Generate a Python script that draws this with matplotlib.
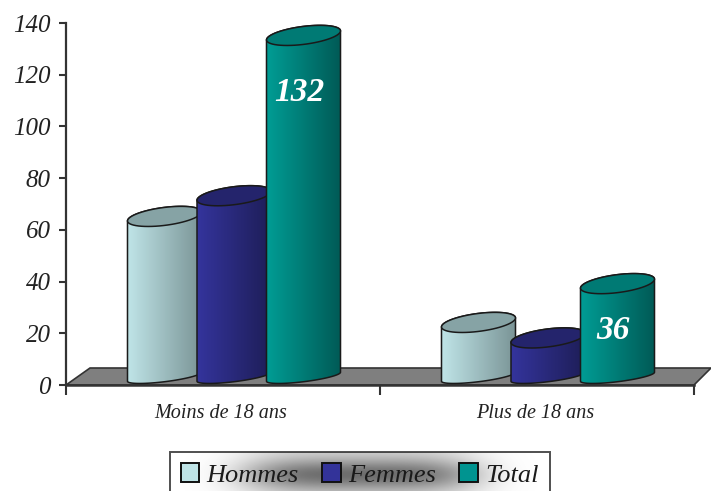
import numpy as np
import matplotlib
matplotlib.use("Agg")
import matplotlib.pyplot as plt
from matplotlib.patches import Polygon, Patch
from matplotlib.colors import LinearSegmentedColormap

categories = ["Moins de 18 ans", "Plus de 18 ans"]
series_names = ["Hommes", "Femmes", "Total"]
hommes = [62, 21]
femmes = [70, 15]
total = [132, 36]
series_values = [hommes, femmes, total]
shown_labels = {(2, 0): ("132", 113), (2, 1): ("36", 21)}
y_ticks = [0, 20, 40, 60, 80, 100, 120, 140]
grad_colors = [("#BFE4E7", "#7A9496", "#86A3A5"),
               ("#34349C", "#1E1E58", "#24246C"),
               ("#009C94", "#005A56", "#007A74")]

W, H = 711, 491
fig = plt.figure(figsize=(W / 100, H / 100), dpi=100, facecolor="white")
L, R, T, B = 66, 694, 23, 385
ax = fig.add_axes([L / W, 1 - B / H, (R - L) / W, (B - T) / H])
ax.set_xlim(-0.5, 1.5)
ax.set_ylim(0, 140)
ax.patch.set_alpha(0)
px = (R - L) / 2            # pixels per category
py = (B - T) / 140          # pixels per unit

serif = "Liberation Serif"
ink = "#222222"

# floor
back = 17 / py
floor = Polygon([(-0.5, 0), (1.5, 0), (1.5 + 17 / px, back), (-0.5 + 24 / px, back)],
                closed=True, facecolor="#7F7F7F", edgecolor="#333333", lw=1.2,
                clip_on=False, zorder=1)
ax.add_patch(floor)

# cylinders
rx = 37 / px
tilt = 4.5 / py
spacing = 69.5 / px
shift = 11 / px
lift = 3.2


def arc(cx, cy, ry, t0, t1, n=60):
    t = np.linspace(t0, t1, n)
    return np.column_stack([cx + rx * np.cos(t),
                            cy + ry * np.sin(t) + tilt * np.cos(t)])


z = 3
for s, vals in enumerate(series_values):
    c0, c1, ctop = grad_colors[s]
    cmap = LinearSegmentedColormap.from_list(f"c{s}", [c0, c1])
    for i, v in enumerate(vals):
        cx = i + (s - 1) * spacing + shift
        ctr_top = v + lift
        body_pts = np.vstack([arc(cx, lift, 5 / py, np.pi, 2 * np.pi),
                              arc(cx, ctr_top, 9 / py, 0, np.pi)])
        body_pts = np.vstack([body_pts, body_pts[0]])
        grad = np.linspace(0, 1, 128).reshape(1, -1)
        im = ax.imshow(grad, cmap=cmap, aspect="auto", interpolation="bilinear",
                       extent=[cx - rx, cx + rx, 0, 140], zorder=z, clip_on=True)
        body = Polygon(body_pts, closed=True, facecolor="none", edgecolor="#1A1A1A",
                       lw=1.1, zorder=z + 0.2, clip_on=False)
        ax.add_patch(body)
        im.set_clip_path(body)
        top = Polygon(arc(cx, ctr_top, 9 / py, 0, 2 * np.pi), closed=True,
                      facecolor=ctop, edgecolor="#1A1A1A", lw=1.1,
                      zorder=z + 0.3, clip_on=False)
        ax.add_patch(top)
        z += 1
        if (s, i) in shown_labels:
            txt, ypos = shown_labels[(s, i)]
            ax.text(cx - 4 / px, ypos, txt, color="white", family=serif, style="italic",
                    weight="bold", fontsize=24, ha="center", va="center", zorder=50)
ax.set_xlim(-0.5, 1.5)
ax.set_ylim(0, 140)

# axes
for sp in ("top", "right"):
    ax.spines[sp].set_visible(False)
ax.spines["left"].set_color("#333333")
ax.spines["left"].set_linewidth(1.6)
ax.spines["bottom"].set_color("#333333")
ax.spines["bottom"].set_linewidth(1.8)
ax.spines["bottom"].set_zorder(2)
ax.set_yticks(y_ticks)
ax.set_yticklabels([str(t) for t in y_ticks], family=serif, style="italic",
                   fontsize=18, color=ink)
ax.tick_params(axis="y", length=5, width=1.5, color="#333333", pad=6)
ax.set_xticks([-0.5, 0.5, 1.5])
ax.set_xticklabels([])
ax.tick_params(axis="x", length=7, width=1.5, color="#333333", direction="out")
for i, c in enumerate(categories):
    ax.text(i - 2 / px, -28 / py, c, family=serif, style="italic", fontsize=14.5,
            color=ink, ha="center", va="center", clip_on=False)

# legend shadow
sh = fig.add_axes([170 / W, 0, 380 / W, 39 / H], zorder=0)
xx, yy = np.meshgrid(np.linspace(-1, 1, 380), np.linspace(0, 1, 39))
blob = np.exp(-(xx / 0.62) ** 4) * (0.25 + 0.75 * np.exp(-((yy - 0.42) / 0.42) ** 2))
shadow = LinearSegmentedColormap.from_list("sh", ["#FFFFFF", "#6E6E6E"])
sh.imshow(blob, cmap=shadow, vmin=0, vmax=1, aspect="auto", origin="lower")
sh.axis("off")

swatches = [grad_colors[0][0], "#333399", "#009490"]
handles = [Patch(facecolor=col, edgecolor="#111111", lw=1.4, joinstyle="round")
           for col in swatches]
leg_ax = fig.add_axes([0, 0, 1, 1], zorder=5)
leg_ax.axis("off")
leg = leg_ax.legend(handles, series_names, ncol=3, loc="upper left",
                    bbox_to_anchor=(169.5 / W, 1 - 452 / H), borderaxespad=0,
                    prop={"family": serif, "style": "italic", "size": 19},
                    handlelength=0.7, handleheight=0.7, handletextpad=0.28,
                    columnspacing=0.885, borderpad=0.42,
                    frameon=True, fancybox=False, facecolor="none",
                    edgecolor="#222222")
leg.get_frame().set_linewidth(1.4)
for t in leg.get_texts():
    t.set_color("#1A1A1A")

fig.savefig("out.png", dpi=100)
